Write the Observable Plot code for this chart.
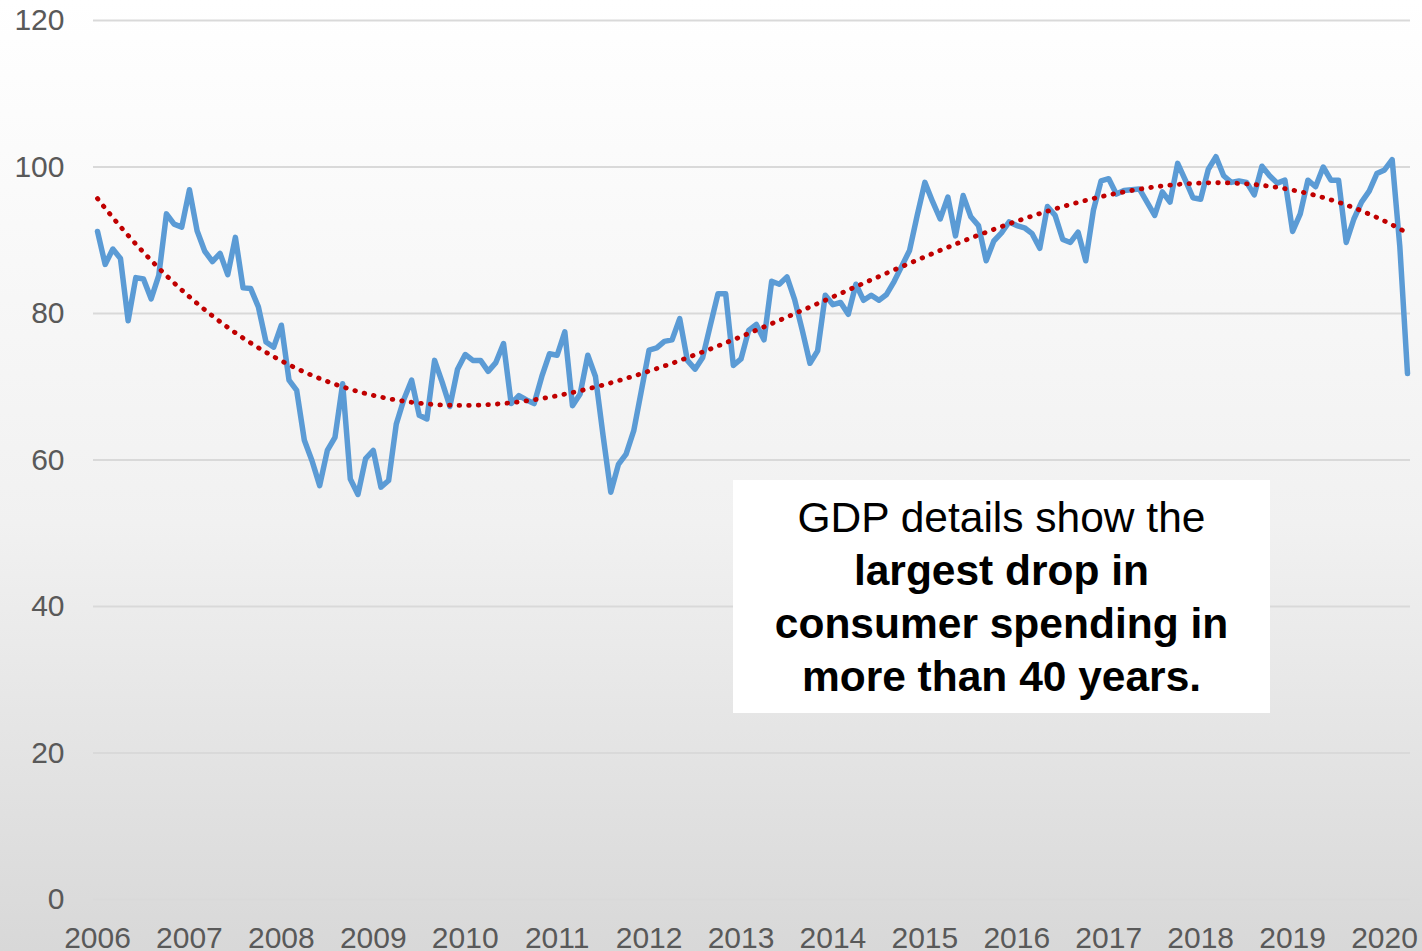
<!DOCTYPE html>
<html><head><meta charset="utf-8">
<script src="https://cdn.jsdelivr.net/npm/d3@7"></script>
<script src="https://cdn.jsdelivr.net/npm/@observablehq/plot@0.6"></script>
<style>
html,body{margin:0;padding:0;}
body{width:1422px;height:951px;overflow:hidden;position:relative;background:linear-gradient(to bottom,#ffffff 0%,#f1f1f1 55%,#d8d8d8 100%);font-family:"Liberation Sans",Arial,sans-serif;}
#chart{position:absolute;left:0;top:0;}
#note{position:absolute;left:733px;top:480px;width:537px;height:233px;background:#fff;text-align:center;font-size:42.5px;line-height:53px;padding-top:11px;box-sizing:border-box;color:#000;font-family:"Liberation Sans",Arial,sans-serif;}
</style></head><body>
<div id="chart"></div>
<div id="note">GDP details show the<br><b>largest drop in<br>consumer spending in<br>more than 40 years.</b></div>
<script>
// Monthly index values, Jan 2006 – Apr 2020
const y2006 = [91.2, 86.7, 88.8, 87.5, 79.0, 84.9, 84.7, 82.0, 85.2, 93.6, 92.2, 91.8];
const y2007 = [96.9, 91.3, 88.5, 87.1, 88.2, 85.3, 90.4, 83.5, 83.4, 80.9, 76.1, 75.4];
const y2008 = [78.4, 70.9, 69.5, 62.7, 59.9, 56.5, 61.3, 63.1, 70.4, 57.4, 55.3, 60.2];
const y2009 = [61.3, 56.3, 57.2, 64.9, 68.3, 70.9, 66.1, 65.6, 73.6, 70.6, 67.3, 72.4];
const y2010 = [74.4, 73.6, 73.6, 72.1, 73.3, 75.9, 67.7, 68.8, 68.2, 67.7, 71.4, 74.5];
const y2011 = [74.3, 77.5, 67.4, 69.0, 74.3, 71.4, 63.3, 55.6, 59.4, 60.8, 64.0, 69.5];
const y2012 = [75.0, 75.3, 76.2, 76.4, 79.3, 73.6, 72.4, 74.0, 78.4, 82.7, 82.7, 72.9];
const y2013 = [73.8, 77.7, 78.5, 76.4, 84.4, 84.0, 85.0, 81.9, 77.7, 73.2, 74.9, 82.5];
const y2014 = [81.2, 81.5, 79.9, 84.0, 81.8, 82.5, 81.8, 82.6, 84.4, 86.5, 88.6, 93.4];
const y2015 = [97.9, 95.3, 92.9, 95.9, 90.6, 96.1, 93.2, 92.0, 87.2, 89.9, 91.0, 92.5];
const y2016 = [92.0, 91.7, 90.9, 88.9, 94.6, 93.4, 90.1, 89.7, 91.1, 87.2, 94.1, 98.1];
const y2017 = [98.4, 96.3, 96.8, 96.9, 97.0, 95.2, 93.4, 96.6, 95.2, 100.5, 98.2, 95.8];
const y2018 = [95.6, 99.7, 101.4, 98.8, 97.9, 98.1, 97.9, 96.2, 100.1, 98.8, 97.8, 98.2];
const y2019 = [91.2, 93.6, 98.2, 97.3, 100.0, 98.2, 98.2, 89.7, 92.9, 95.2, 96.7, 99.1];
const y2020 = [99.6, 101.0, 89.1, 71.8];

const yearTicks = [2006, 2007, 2008, 2009, 2010, 2011, 2012, 2013, 2014, 2015, 2016, 2017, 2018, 2019, 2020];
const yTicks = [0, 20, 40, 60, 80, 100, 120];
const startYear = 2006;

const values = [].concat(y2006, y2007, y2008, y2009, y2010, y2011, y2012, y2013, y2014, y2015, y2016, y2017, y2018, y2019, y2020);
const data = values.map((v, i) => ({t: startYear + i / 12, v}));

// Polynomial (order 3) least-squares trendline fitted to the series
function polyFit(xs, ys, deg) {
  const n = deg + 1;
  const A = [];
  for (let r = 0; r < n; r++) A.push(new Array(n + 1).fill(0));
  for (let k = 0; k < xs.length; k++) {
    const pw = [];
    for (let p = 0; p <= 2 * deg; p++) pw.push(Math.pow(xs[k], p));
    for (let r = 0; r < n; r++) {
      for (let c = 0; c < n; c++) A[r][c] += pw[r + c];
      A[r][n] += pw[r] * ys[k];
    }
  }
  for (let i = 0; i < n; i++) {
    let m = i;
    for (let r = i + 1; r < n; r++) {
      if (Math.abs(A[r][i]) > Math.abs(A[m][i])) m = r;
    }
    const tmp = A[i]; A[i] = A[m]; A[m] = tmp;
    for (let r = 0; r < n; r++) {
      if (r === i) continue;
      const f = A[r][i] / A[i][i];
      for (let c = i; c <= n; c++) A[r][c] -= f * A[i][c];
    }
  }
  const out = [];
  for (let i = 0; i < n; i++) out.push(A[i][n] / A[i][i]);
  return out;
}
const N = values.length;
const xs = values.map((_, i) => i / (N - 1));
const coef = polyFit(xs, values, 3);
const trend = [];
for (let s = 0; s <= (N - 1) * 2; s++) {
  const i = s / 2, u = i / (N - 1);
  let v = 0;
  for (let p = 0; p < coef.length; p++) v += coef[p] * Math.pow(u, p);
  trend.push({t: startYear + i / 12, v});
}

const chart = Plot.plot({
  width: 1422, height: 951,
  marginLeft: 97, marginRight: 15, marginTop: 20, marginBottom: 52,
  style: {background: "transparent", fontFamily: "Liberation Sans, Arial, sans-serif", fontSize: "30px", color: "#595959", overflow: "visible"},
  x: {domain: [startYear, startYear + (N - 1) / 12]},
  y: {domain: [0, 120]},
  marks: [
    Plot.ruleY(yTicks, {stroke: "#d9d9d9", strokeWidth: 2, insetLeft: -4, insetRight: -3}),
    Plot.axisY({ticks: yTicks, tickSize: 0, tickPadding: 33, label: null, fill: "#595959"}),
    Plot.axisX({ticks: yearTicks, tickSize: 0, tickPadding: 27, label: null, tickFormat: d => String(d), fill: "#595959"}),
    Plot.line(data, {x: "t", y: "v", stroke: "#5B9BD5", strokeWidth: 5.5, strokeLinejoin: "round", strokeLinecap: "round"}),
    Plot.line(trend, {x: "t", y: "v", stroke: "#C00000", strokeWidth: 4.8, strokeDasharray: "0.6 9", strokeLinecap: "round", strokeLinejoin: "round"})
  ]
});
document.getElementById("chart").appendChild(chart);
</script></body></html>
